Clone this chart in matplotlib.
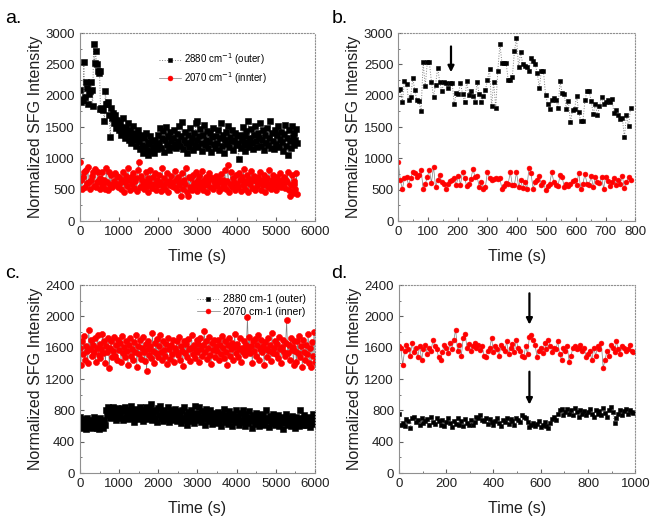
import numpy as np
import matplotlib.pyplot as plt
from matplotlib.ticker import MultipleLocator

plt.rcParams['font.family'] = ['Liberation Sans', 'DejaVu Sans']

# ---- panel b: first 800 s of run 1 (7 s steps) ----
b_step = 7
b_outer = [2094, 2110, 1897, 2240, 2190, 1925, 1980, 2280, 2085, 1925,
           1910, 1750, 2530, 2150, 2530, 2530, 2225, 1980, 2175, 2445,
           2220, 2070, 2220, 2200, 2125, 2200, 2200, 1860, 2045, 2030,
           2200, 2030, 1897, 2230, 2015, 2070, 2000, 1897, 2215, 2020,
           1897, 2000, 2085, 2250, 2430, 1830, 2215, 1810, 2400, 2825,
           2520, 2520, 2520, 2250, 2250, 2305, 2710, 2920, 2455, 2690,
           2505, 2480, 2455, 2400, 2600, 2550, 2505, 2360, 2125, 2400,
           2390, 2015, 1870, 1790, 1935, 1960, 1935, 1810, 2230, 2040,
           2030, 1790, 1915, 1580, 1765, 1790, 2000, 1740, 1595, 1595,
           1925, 2070, 2070, 1915, 1710, 1870, 1685, 1830, 1980, 1870,
           1897, 1935, 1897, 1950, 1720, 1765, 1685, 1630, 1650, 1340,
           1685, 1510, 1810]
b_inner = [950, 650, 510, 690, 700, 580, 680, 780, 760, 700,
           740, 820, 520, 590, 700, 820, 610, 870, 540, 660,
           740, 620, 600, 510, 600, 640, 650, 680, 580, 720,
           580, 790, 690, 560, 600, 670, 830, 710, 720, 540,
           630, 510, 540, 790, 680, 650, 670, 680, 670, 680,
           510, 560, 610, 600, 780, 580, 580, 780, 550, 650,
           530, 620, 520, 850, 760, 520, 620, 660, 720, 580,
           620, 500, 560, 600, 780, 620, 580, 560, 730, 700,
           550, 600, 560, 600, 640, 650, 580, 770, 510, 600,
           750, 600, 580, 720, 540, 700, 620, 610, 700, 520,
           710, 640, 560, 620, 690, 580, 660, 600, 720, 530,
           620, 700, 650]

# ---- panel a: full run 1 (25 s steps) ----
a_step = 25
a_outer = [2094, 1897, 1925, 1925, 2530, 1980, 2220, 2125, 1860, 2030,
           2070, 2215, 2085, 1830, 2825, 2520, 2710, 2505, 2400, 2360,
           2390, 1790, 1810, 1790, 1765, 1595, 2070, 1870, 1870, 1897,
           1685, 1340, 1810, 1650, 1720, 1560, 1700, 1480, 1620, 1540,
           1450, 1580, 1380, 1500, 1650, 1420, 1330, 1480, 1390, 1560,
           1300, 1450, 1240, 1380, 1520, 1290, 1410, 1200, 1350, 1460,
           1270, 1150, 1380, 1220, 1090, 1320, 1180, 1410, 1130, 1260,
           1050, 1230, 1350, 1120, 1280, 1190, 1080, 1300, 1210, 1150,
           1380, 1250, 1480, 1170, 1320, 1440, 1100, 1290, 1500, 1210,
           1360, 1140, 1420, 1270, 1190, 1330, 1450, 1230, 1160, 1390,
           1280, 1520, 1200, 1350, 1580, 1150, 1300, 1420, 1240, 1080,
           1370, 1190, 1480, 1260, 1330, 1130, 1400, 1220, 1560, 1290,
           1600, 1180, 1350, 1470, 1250, 1120, 1380, 1530, 1210, 1300,
           1440, 1160, 1260, 1400, 1100, 1340, 1490, 1230, 1170, 1360,
           1250, 1450, 1140, 1320, 1560, 1200, 1380, 1090, 1290, 1420,
           1230, 1510, 1180, 1340, 1270, 1460, 1130, 1300, 1400, 1210,
           1350, 1240, 990, 1380, 1170, 1290, 1500, 1220, 1360, 1120,
           1430, 1260, 1600, 1190, 1330, 1470, 1240, 1150, 1380, 1520,
           1270, 1180, 1410, 1330, 1560, 1200, 1290, 1450, 1140, 1370,
           1250, 1490, 1210, 1330, 1600, 1170, 1400, 1280, 1150, 1460,
           1230, 1380, 1520, 1180, 1310, 1420, 1260, 1120, 1390, 1540,
           1200, 1330, 1060, 1450, 1270, 1160, 1510, 1340, 1220, 1400,
           1290, 1470, 1250]
a_inner = [950, 650, 520, 700, 780, 540, 820, 610, 870, 620,
           510, 650, 720, 790, 560, 830, 540, 630, 790, 650,
           680, 510, 610, 780, 580, 650, 520, 850, 620, 500,
           780, 580, 730, 550, 600, 640, 770, 600, 720, 540,
           700, 610, 520, 660, 780, 470, 620, 720, 560, 840,
           650, 500, 700, 590, 760, 530, 640, 690, 480, 810,
           940, 550, 720, 660, 600, 510, 620, 780, 560, 690,
           470, 640, 820, 580, 530, 710, 600, 760, 490, 650,
           580, 730, 620, 480, 850, 560, 690, 520, 610, 760,
           470, 640, 580, 720, 560, 620, 540, 800, 660, 500,
           700, 580, 630, 400, 760, 520, 650, 590, 840, 470,
           400, 700, 550, 680, 500, 740, 610, 560, 780, 630,
           480, 660, 720, 540, 610, 800, 500, 650, 580, 700,
           460, 620, 760, 550, 680, 680, 520, 640, 590, 720,
           560, 690, 480, 620, 750, 530, 660, 580, 820, 510,
           640, 900, 470, 600, 780, 550, 680, 620, 500, 730,
           600, 540, 760, 650, 480, 700, 580, 830, 520, 640,
           610, 740, 460, 670, 590, 800, 530, 650, 720, 490,
           640, 560, 700, 610, 780, 500, 660, 580, 740, 470,
           620, 690, 550, 820, 600, 510, 660, 730, 580, 640,
           490, 700, 620, 560, 760, 540, 650, 580, 710, 530,
           660, 620, 780, 500, 400, 570, 740, 450, 640, 600,
           520, 760, 440]

# ---- panel c: full run 2 (25 s steps) ----
c_step = 25
c_outer = [720, 600, 650, 580, 690, 620, 560, 700, 640, 590,
           680, 610, 570, 660, 720, 600, 640, 580, 690, 560,
           650, 710, 600, 630, 570, 680, 620,
           800, 740, 840, 780, 700, 820, 760, 850, 720, 790,
           680, 830, 750, 810,
           760, 700, 830, 680, 790, 850, 720, 770, 690, 810,
           740, 860, 700, 780, 650, 820, 730, 800, 690, 760,
           840, 710, 780, 660, 800, 740, 850, 700, 770, 690,
           820, 730, 880, 680, 760, 800, 710, 790, 650, 830,
           740, 860, 700, 780, 660, 810, 720, 770, 690, 840,
           650, 750, 800, 700, 770, 680, 820, 730, 660, 790,
           710, 760, 640, 800, 700, 850, 680, 740, 620, 780,
           720, 660, 810, 700, 750, 640, 860, 690, 770, 730,
           680, 840, 720, 650, 790, 700, 760, 620, 820, 690,
           740, 660, 800, 710, 630, 770, 690, 750, 640, 720,
           780, 660, 730, 600, 760, 690, 820, 650, 710, 740,
           630, 790, 680, 720, 600, 760, 700, 650, 800, 690,
           730, 620, 770, 680, 650, 810, 700, 600, 750, 680,
           720, 640, 790, 660, 710, 580, 740, 690, 630, 770,
           680, 720, 600, 760, 650, 700, 740, 620, 690, 800,
           660, 710, 590, 730, 680, 640, 750, 700, 610, 720,
           670, 740, 600, 700, 650, 720, 560, 690, 640, 760,
           680, 620, 710, 660, 600, 730, 690, 640, 700, 580,
           720, 650, 690, 600, 810, 660, 700, 620, 740, 680,
           610, 700, 650, 720, 590, 690, 660, 750, 630, 700]
c_inner = [1600, 1380, 1680, 1520, 1750, 1450, 1620, 1560, 1400, 1830,
           1580, 1700, 1490, 1640, 1540, 1720, 1420, 1600, 1760, 1510,
           1650, 1470, 1580, 1780, 1530, 1690, 1400, 1620, 1550, 1720,
           1340, 1600, 1680, 1480, 1560, 1740, 1500, 1630, 1450, 1700,
           1570, 1660, 1420, 1750, 1530, 1610, 1480, 1690, 1560, 1380,
           1640, 1720, 1500, 1590, 1450, 1670, 1540, 1760, 1360, 1620,
           1520, 1700, 1460, 1600, 1740, 1550, 1430, 1650, 1300, 1580,
           1690, 1510, 1620, 1470, 1790, 1560, 1400, 1660, 1530, 1710,
           1480, 1620, 1760, 1540, 1440, 1680, 1570, 1500, 1650, 1390,
           1730, 1590, 1460, 1640, 1520, 1700, 1420, 1600, 1560, 1680,
           1510, 1740, 1450, 1620, 1560, 1370, 1690, 1530, 1650, 1480,
           1710, 1580, 1430, 1600, 1760, 1520, 1640, 1470, 1570, 1700,
           1540, 1650, 1420, 1720, 1580, 1490, 1630, 1810, 1550, 1680,
           1460, 1600, 1740, 1510, 1390, 1660, 1570, 1700, 1480, 1620,
           1560, 1700, 1440, 1640, 1520, 1750, 1600, 1470, 1680, 1550,
           1380, 1630, 1720, 1500, 1590, 1660, 1450, 1610, 1770, 1530,
           1650, 1480, 1590, 1720, 1420, 1600, 1550, 1690, 1510, 1560,
           1640, 1990, 1580, 1740, 1530, 1620, 1400, 1680, 1560, 1710,
           1500, 1630, 1760, 1450, 1580, 1700, 1540, 1620, 1380, 1670,
           1590, 1480, 1720, 1560, 1640, 1430, 1790, 1530, 1600, 1680,
           1520, 1650, 1470, 1740, 1580, 1410, 1610, 1700, 1550, 1490,
           1660, 1950, 1530, 1630, 1450, 1720, 1570, 1610, 1380, 1690,
           1560, 1420, 1680, 1530, 1750, 1480, 1620, 1360, 1700, 1550,
           1450, 1640, 1520, 1780, 1400, 1600, 1350, 1670, 1500, 1800,
           1420]

# ---- panel d: first 1000 s of run 2 (8 s steps) ----
d_step = 8
d_outer = [760, 610, 640, 600, 690, 660, 570, 700, 720, 650,
           680, 620, 700, 640, 660, 690, 610, 720, 650, 630,
           700, 660, 620, 680, 600, 650, 710, 640, 590, 670,
           630, 700, 610, 660, 600, 690, 640, 620, 680, 610,
           650, 720, 700, 740, 680, 660, 700, 630, 690, 650,
           610, 670, 700, 640, 600, 680, 650, 710, 630, 690,
           660, 620, 700, 680, 650, 740, 720, 700, 650, 590,
           610, 640, 600, 630, 670, 590, 620, 650, 600, 580,
           640, 690, 720, 680, 760, 800, 820, 740, 780, 820,
           760, 800, 740, 830, 780, 720, 810, 760, 790, 740,
           780, 820, 760, 720, 800, 750, 790, 740, 830, 770,
           720, 800, 850, 780, 640, 700, 760, 800, 740, 790,
           820, 760, 800, 780, 770]
d_inner = [1620, 1600, 1380, 1560, 1640, 1580, 1500, 1660, 1540, 1600,
           1480, 1620, 1450, 1580, 1640, 1520, 1600, 1560, 1700, 1620,
           1580, 1480, 1440, 1550, 1640, 1600, 1530, 1660, 1580, 1700,
           1830, 1560, 1640, 1500, 1720, 1780, 1600, 1650, 1560, 1620,
           1660, 1600, 1640, 1570, 1620, 1500, 1480, 1560, 1600, 1720,
           1540, 1620, 1580, 1490, 1640, 1600, 1560, 1680, 1520, 1600,
           1650, 1540, 1700, 1600, 1560, 1500, 1480, 1620, 1520, 1740,
           1760, 1700, 1640, 1480, 1560, 1600, 1530, 1660, 1580, 1700,
           1620, 1540, 1600, 1580, 1680, 1520, 1440, 1600, 1560, 1620,
           1420, 1500, 1600, 1620, 1580, 1600, 1640, 1560, 1600, 1480,
           1520, 1560, 1440, 1600, 1500, 1620, 1580, 1660, 1340, 1450,
           1560, 1500, 1640, 1600, 1540, 1680, 1580, 1520, 1620, 1600,
           1560, 1580, 1640, 1560, 1540]


def draw(ax, step, outer, inner, xlim, xmaj, ylim, ymaj, ms, labels=None):
    t1 = np.arange(len(outer)) * step
    t2 = np.arange(len(inner)) * step
    ax.plot(t1, outer, color='#808080', ls=':', lw=0.7,
            marker='s', ms=ms, mew=0.4, mfc='black', mec='black',
            label=labels and labels[0])
    ax.plot(t2, inner, color='#808080', ls='-', lw=0.5,
            marker='o', ms=ms + 0.2, mew=0.4, mfc='red', mec='red',
            label=labels and labels[1])
    ax.set_xlim(*xlim)
    ax.set_ylim(*ylim)
    ax.xaxis.set_major_locator(MultipleLocator(xmaj))
    ax.yaxis.set_major_locator(MultipleLocator(ymaj))
    ax.xaxis.set_minor_locator(MultipleLocator(xmaj / 2))
    ax.yaxis.set_minor_locator(MultipleLocator(ymaj / 2))
    ax.tick_params(which='both', direction='in', colors='#606060',
                   labelcolor='#202020', labelsize=9.5)
    ax.tick_params(which='major', length=3)
    ax.tick_params(which='minor', length=1.5)
    for s in ax.spines.values():
        s.set_color('#909090')
        s.set_linewidth(0.8)
    ax.spines['top'].set_linestyle(':')
    ax.spines['right'].set_linestyle(':')
    ax.set_xlabel('Time (s)', fontsize=11.5, labelpad=8, color='#202020')
    ax.set_ylabel('Normalized SFG Intensity', fontsize=11.5, labelpad=2,
                  color='#202020')


fig = plt.figure(figsize=(6.55, 5.24), dpi=100)
ax_a = fig.add_axes([0.122, 0.578, 0.359, 0.359])
ax_b = fig.add_axes([0.608, 0.578, 0.362, 0.359])
ax_c = fig.add_axes([0.122, 0.097, 0.359, 0.359])
ax_d = fig.add_axes([0.609, 0.097, 0.361, 0.359])

draw(ax_a, a_step, a_outer, a_inner, (0, 6000), 1000, (0, 3000), 500, 4.2,
     ['2880 cm$^{-1}$ (outer)', '2070 cm$^{-1}$ (innter)'])
draw(ax_b, b_step, b_outer, b_inner, (0, 800), 100, (0, 3000), 500, 3.3)
draw(ax_c, c_step, c_outer, c_inner, (0, 6000), 1000, (0, 2400), 400, 4.2,
     ['2880 cm-1 (outer)', '2070 cm-1 (inner)'])
draw(ax_d, d_step, d_outer, d_inner, (0, 1000), 200, (0, 2400), 400, 3.3)

ax_a.legend(loc='upper left', bbox_to_anchor=(0.30, 0.95), frameon=False,
            fontsize=7, handlelength=2.2, handletextpad=0.3, labelspacing=0.3,
            markerscale=0.8)
ax_c.legend(loc='upper right', bbox_to_anchor=(1.0, 1.0), frameon=False,
            fontsize=7.5, handlelength=2.2, handletextpad=0.3, labelspacing=0.2,
            markerscale=0.8)

arrow = dict(arrowstyle='-|>', color='black', lw=1.6, mutation_scale=9)
ax_b.annotate('', xy=(178, 2330), xytext=(178, 2830), arrowprops=arrow)
ax_d.annotate('', xy=(552, 1860), xytext=(552, 2330), arrowprops=arrow)
ax_d.annotate('', xy=(552, 840), xytext=(552, 1330), arrowprops=arrow)

for x, y, s in [(0.008, 0.965, 'a.'), (0.506, 0.965, 'b.'),
                (0.008, 0.478, 'c.'), (0.506, 0.478, 'd.')]:
    fig.text(x, y, s, fontsize=14, va='center', ha='left')

fig.savefig('out.png', dpi=100)
